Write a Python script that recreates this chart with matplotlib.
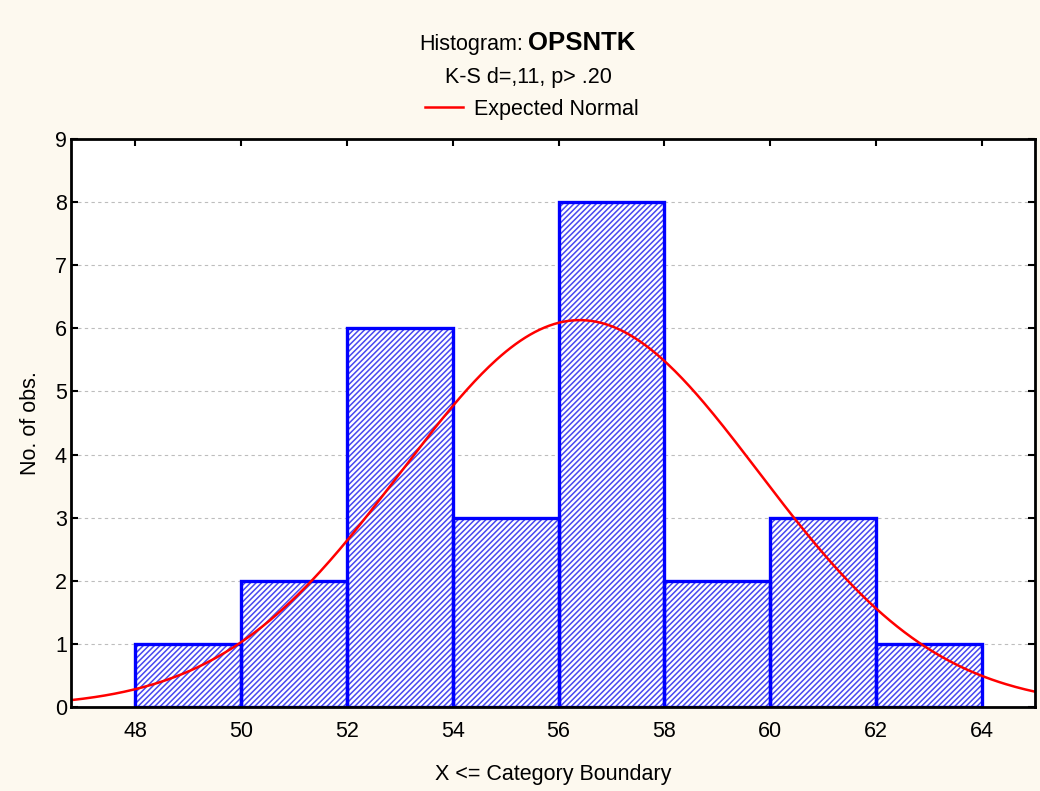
import numpy as np
import matplotlib
matplotlib.use("Agg")
import matplotlib.pyplot as plt
from matplotlib.lines import Line2D

plt.rcParams['font.family'] = ['Liberation Sans', 'DejaVu Sans']
plt.rcParams['hatch.linewidth'] = 1.1

# Histogram data: bin edges and counts per bin
bin_edges = [48, 50, 52, 54, 56, 58, 60, 62, 64]
counts = [1, 2, 6, 3, 8, 2, 3, 1]
x_ticks = [48, 50, 52, 54, 56, 58, 60, 62, 64]
y_ticks = [0, 1, 2, 3, 4, 5, 6, 7, 8, 9]

# Fitted normal parameters
fit_mean = 56.4
fit_sd = 3.384

variable_name = "OPSNTK"
ks_text = "K-S d=,11, p> .20"

FS = 15.5
W, H = 1040, 791
bg = '#FDF9EF'
fig = plt.figure(figsize=(W / 100, H / 100), dpi=100, facecolor=bg)
ax = fig.add_axes([71 / W, 1 - 707 / H, (1035 - 71) / W, (707 - 139) / H])
ax.set_facecolor('white')

lefts = np.array(bin_edges[:-1])
widths = np.diff(bin_edges)
# hatched fill
ax.bar(lefts, counts, width=widths, align='edge', facecolor='white',
       edgecolor='#4848F0', hatch='//////', linewidth=0, zorder=2)
# bar outlines
ax.bar(lefts, counts, width=widths, align='edge', fill=False,
       edgecolor='#0000FF', linewidth=2.4, zorder=3)

xlim = (46.79, 65.0)
n_obs = sum(counts)
bw = widths[0]
xs = np.linspace(xlim[0], xlim[1], 400)
ys = n_obs * bw / (fit_sd * np.sqrt(2 * np.pi)) * np.exp(-0.5 * ((xs - fit_mean) / fit_sd) ** 2)
ax.plot(xs, ys, color='#FF0000', linewidth=1.8, zorder=4)

ax.set_xlim(*xlim)
ax.set_ylim(0, 9)
ax.set_xticks(x_ticks)
ax.set_yticks(y_ticks)
ax.tick_params(axis='both', direction='in', length=5, width=1.5, labelsize=FS,
               top=True, right=True, colors='black')
ax.tick_params(axis='x', pad=10)
ax.tick_params(axis='y', pad=3)

for yv in y_ticks[1:-1]:
    ax.axhline(yv, color='#BDBDBD', linewidth=0.8, linestyle=(0, (3, 3)), zorder=1)

for s in ax.spines.values():
    s.set_linewidth(2)
    s.set_color('black')
    s.set_zorder(5)

ax.set_xlabel("X <= Category Boundary", fontsize=FS, labelpad=16)
ax.set_ylabel("No. of obs.", fontsize=FS, labelpad=10)

# Title lines
fig.text(523 / W, 1 - 50 / H, "Histogram:", ha='right', va='baseline', fontsize=FS)
fig.text(528 / W, 1 - 50 / H, variable_name, ha='left', va='baseline', fontsize=18.5,
         fontweight='bold')
fig.text(528 / W, 1 - 83 / H, ks_text, ha='center', va='baseline', fontsize=FS)

handle = Line2D([], [], color='#FF0000', linewidth=1.8)
fig.legend(handles=[handle], labels=["Expected Normal"], loc='center left',
           bbox_to_anchor=(425 / W, 1 - 109 / H), frameon=False, fontsize=FS,
           handlelength=1.77, handletextpad=0.5, borderpad=0, borderaxespad=0)

fig.savefig("out.png", dpi=100, facecolor=bg)
